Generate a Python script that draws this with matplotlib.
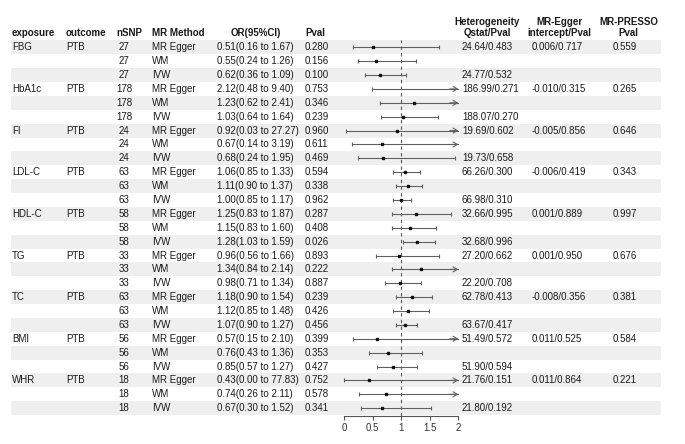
import matplotlib
matplotlib.use("Agg")
import matplotlib.pyplot as plt
from matplotlib.patches import Rectangle

plt.rcParams['font.family'] = ['Liberation Sans', 'DejaVu Sans']

exposures = ["FBG", "", "", "HbA1c", "", "", "FI", "", "", "LDL-C", "", "", "HDL-C", "", "",
             "TG", "", "", "TC", "", "", "BMI", "", "", "WHR", "", ""]
outcomes = ["PTB", "", ""] * 9
nsnp = [27, 27, 27, 178, 178, 178, 24, 24, 24, 63, 63, 63, 58, 58, 58,
        33, 33, 33, 63, 63, 63, 56, 56, 56, 18, 18, 18]
methods = ["MR Egger", "WM", "IVW"] * 9
or_est = [0.51, 0.55, 0.62, 2.12, 1.23, 1.03, 0.92, 0.67, 0.68, 1.06, 1.11, 1.00,
          1.25, 1.15, 1.28, 0.96, 1.34, 0.98, 1.18, 1.12, 1.07, 0.57, 0.76, 0.85,
          0.43, 0.74, 0.67]
or_lo = [0.16, 0.24, 0.36, 0.48, 0.62, 0.64, 0.03, 0.14, 0.24, 0.85, 0.90, 0.85,
         0.83, 0.83, 1.03, 0.56, 0.84, 0.71, 0.90, 0.85, 0.90, 0.15, 0.43, 0.57,
         0.00, 0.26, 0.30]
or_hi = [1.67, 1.26, 1.09, 9.40, 2.41, 1.64, 27.27, 3.19, 1.95, 1.33, 1.37, 1.17,
         1.87, 1.60, 1.59, 1.66, 2.14, 1.34, 1.54, 1.48, 1.27, 2.10, 1.36, 1.27,
         77.83, 2.11, 1.52]
pvals = ["0.280", "0.156", "0.100", "0.753", "0.346", "0.239", "0.960", "0.611", "0.469",
         "0.594", "0.338", "0.962", "0.287", "0.408", "0.026", "0.893", "0.222", "0.887",
         "0.239", "0.426", "0.456", "0.399", "0.353", "0.427", "0.752", "0.578", "0.341"]
heterogeneity = ["24.64/0.483", "", "24.77/0.532", "186.99/0.271", "", "188.07/0.270",
                 "19.69/0.602", "", "19.73/0.658", "66.26/0.300", "", "66.98/0.310",
                 "32.66/0.995", "", "32.68/0.996", "27.20/0.662", "", "22.20/0.708",
                 "62.78/0.413", "", "63.67/0.417", "51.49/0.572", "", "51.90/0.594",
                 "21.76/0.151", "", "21.80/0.192"]
egger_intercept = ["0.006/0.717", "", "", "-0.010/0.315", "", "", "-0.005/0.856", "", "",
                   "-0.006/0.419", "", "", "0.001/0.889", "", "", "0.001/0.950", "", "",
                   "-0.008/0.356", "", "", "0.011/0.525", "", "", "0.011/0.864", "", ""]
presso = ["0.559", "", "", "0.265", "", "", "0.646", "", "", "0.343", "", "", "0.997", "", "",
          "0.676", "", "", "0.381", "", "", "0.584", "", "", "0.221", "", ""]
xticks = [0, 0.5, 1, 1.5, 2]

W, H = 685, 444
fig = plt.figure(figsize=(W / 100, H / 100), dpi=100)
bg = fig.add_axes([0, 0, 1, 1])
bg.set_xlim(0, W)
bg.set_ylim(H, 0)
bg.axis('off')

y0, rh = 47.3, 13.88
n = len(methods)
txt = '#1a1a1a'
fs = 7

# shading
for i in range(0, n, 2):
    yc = y0 + i * rh
    bg.add_patch(Rectangle((11, yc - rh / 2), 650, rh, facecolor='#efefef', edgecolor='none', zorder=0))

# headers
hy = 33.3
hy1 = 21.7
bold = dict(fontsize=fs, fontweight='bold', color=txt, va='center')
bg.text(12, hy, "exposure", ha='left', **bold)
bg.text(66, hy, "outcome", ha='left', **bold)
bg.text(116, hy, "nSNP", ha='left', **bold)
bg.text(152, hy, "MR Method", ha='left', **bold)
bg.text(256, hy, "OR(95%CI)", ha='center', **bold)
bg.text(305, hy, "Pval", ha='left', **bold)
bg.text(487, hy1, "Heterogeneity", ha='center', **bold)
bg.text(487, hy, "Qstat/Pval", ha='center', **bold)
bg.text(559, hy1, "MR-Egger", ha='center', **bold)
bg.text(559, hy, "intercept/Pval", ha='center', **bold)
bg.text(629, hy1, "MR-PRESSO", ha='center', **bold)
bg.text(628, hy, "Pval", ha='center', **bold)

reg = dict(fontsize=fs, color=txt, va='center', ha='left')
for i in range(n):
    yc = y0 + i * rh
    bg.text(12, yc, exposures[i], **reg)
    bg.text(66, yc, outcomes[i], **reg)
    s = str(nsnp[i])
    bg.text(116 if len(s) == 3 else 118.5, yc, s, **reg)
    bg.text(152, yc, methods[i], **reg)
    bg.text(217, yc, f"{or_est[i]:.2f}({or_lo[i]:.2f} to {or_hi[i]:.2f})", **reg)
    bg.text(305, yc, pvals[i], **reg)
    bg.text(462, yc, heterogeneity[i], **reg)
    bg.text(531.5, yc, egger_intercept[i], **reg)
    bg.text(613, yc, presso[i], **reg)

# forest axes
ax_l, ax_r = 344.3, 458.3
ax_top, ax_bot = 40.0, 415.7
ax = fig.add_axes([ax_l / W, 1 - ax_bot / H, (ax_r - ax_l) / W, (ax_bot - ax_top) / H])
ax.patch.set_alpha(0)
ax.set_xlim(0, 2)
ax.set_ylim((ax_bot - y0) / rh, (ax_top - y0) / rh)
for sp in ['top', 'left', 'right']:
    ax.spines[sp].set_visible(False)
ax.spines['bottom'].set_color('#555555')
ax.spines['bottom'].set_linewidth(0.8)
ax.set_yticks([])
ax.set_xticks(xticks)
ax.set_xticklabels(["0", "0.5", "1", "1.5", "2"])
ax.tick_params(axis='x', length=3, width=0.8, color='#555555', labelsize=fs, labelcolor='#333333', pad=2)

ax.axvline(1, color='#555555', lw=0.8, dashes=(3, 3), zorder=1)

lc = '#5f5f5f'
for i in range(n):
    lo, hi, est = or_lo[i], or_hi[i], or_est[i]
    right = min(hi, 2)
    ax.plot([lo, right], [i, i], color=lc, lw=0.8, clip_on=False, zorder=2)
    ax.plot([lo], [i], marker='|', ms=3.2, mew=0.8, color=lc, clip_on=False, zorder=2)
    if hi > 2:
        ax.annotate('', xy=(2, i), xytext=(1.85, i),
                    arrowprops=dict(arrowstyle='->,head_length=0.5,head_width=0.3', color=lc, lw=0.8,
                                    mutation_scale=6, shrinkA=0, shrinkB=0), annotation_clip=False)
    else:
        ax.plot([hi], [i], marker='|', ms=3.2, mew=0.8, color=lc, clip_on=False, zorder=2)
    if est <= 2:
        ax.plot([est], [i], marker='s', ms=1.8, color='#111111', mec='#111111', clip_on=False, zorder=3)

fig.savefig("out.png", dpi=100)
